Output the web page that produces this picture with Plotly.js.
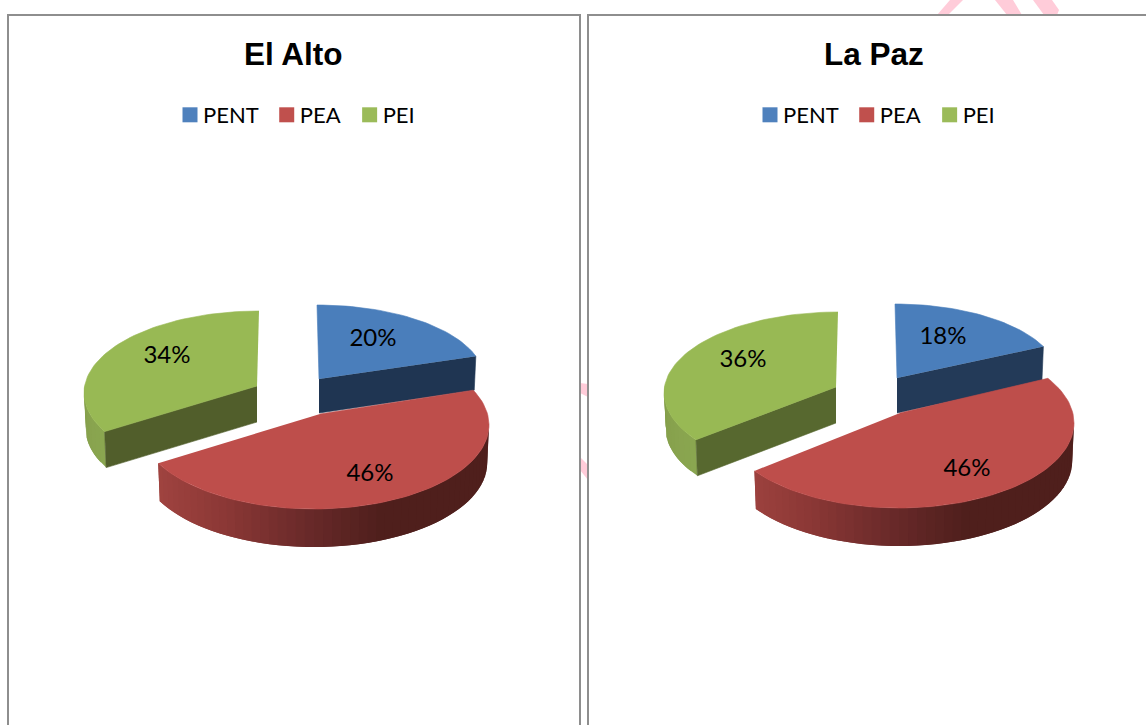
<!DOCTYPE html>
<html>
<head>
<meta charset="utf-8">
<script src="https://cdn.plot.ly/plotly-3.0.1.min.js"></script>
<style>html,body{margin:0;padding:0;background:#fff;overflow:hidden}#chart{width:1146px;height:725px}
.legendtext,.legend2text{transform:translateX(-7px)}</style>
</head>
<body>
<div id="chart"></div>
<script>
// ---------- data ----------
const seriesNames = ['PENT', 'PEA', 'PEI'];
const panelTitles = ['El Alto', 'La Paz'];
const elAltoValues = [20, 46, 34];
const laPazValues = [18, 46, 36];

// ---------- colours ----------
const topColors = ['#4a7ebb', '#be4e4b', '#98b954'];
const legendColors = ['#4f81bd', '#c0504d', '#9bbb59'];
const redWallStops = [[158, [160, 68, 64]], [226, [140, 56, 54]], [320, [102, 40, 40]], [385, [79, 31, 28]], [1200, [77, 30, 27]]];
const greenWallStops = [[0, [138, 166, 80]], [1, [132, 158, 74]]];

// ---------- projected geometry of the exploded, tilted slices (chart px) ----------
// perspective shifts the seen angle of a slice edge from its true angle
const edgeShift = [[0, 0], [-6.5, 5.3], [4.3, 0]];
const elAltoGeom = [
  {cx: 317, cy: 379, a: 167, b: 74, apex: [319, 379], depth: 34, inner: '#1f3552'},
  {cx: 314, cy: 425, a: 175, b: 84, apex: [320, 414], depth: 38},
  {cx: 259, cy: 393, a: 175, b: 82, apex: [257, 386], depth: 36, inner: '#515e2b'}
];
const laPazGeom = [
  {cx: 895, cy: 378, a: 164, b: 74, apex: [897, 378], depth: 35, inner: '#233a58'},
  {cx: 899, cy: 423, a: 175, b: 85, apex: [900, 413], depth: 38},
  {cx: 838, cy: 393, a: 174, b: 81, apex: [836, 387], depth: 36, inner: '#57682f'}
];
const elAltoLabels = [[373, 340], [370, 475], [167, 357]];
const laPazLabels = [[943, 338], [967, 470], [743, 361]];

const D2R = Math.PI / 180;
function pt(g, deg, drop) {
  const k = drop ? 0.99 : 1;
  return [g.cx + g.a * k * Math.sin(deg * D2R), g.cy - g.b * Math.cos(deg * D2R) + (drop ? g.depth : 0)];
}
function arc(g, t0, t1, drop) {
  const n = Math.max(2, Math.ceil(Math.abs(t1 - t0) / 2));
  const out = [];
  for (let i = 0; i <= n; i++) out.push(pt(g, t0 + (t1 - t0) * i / n, drop));
  return out;
}
function lerpStops(stops, v) {
  for (let i = 1; i < stops.length; i++) {
    if (v <= stops[i][0]) {
      const f = Math.max(0, (v - stops[i - 1][0]) / (stops[i][0] - stops[i - 1][0]));
      const c = stops[i - 1][1].map((c0, j) => Math.round(c0 + (stops[i][1][j] - c0) * f));
      return 'rgb(' + c.join(',') + ')';
    }
  }
  return 'rgb(' + stops[stops.length - 1][1].join(',') + ')';
}
function poly(points, color, name, w) {
  return {
    type: 'scatter', mode: 'lines', fill: 'toself', fillcolor: color,
    x: points.map(p => p[0]), y: points.map(p => p[1]),
    line: {color: color, width: w === undefined ? 0.6 : w}, hoverinfo: 'skip', showlegend: false, name: name
  };
}
function wallStrips(g, t0, t1, colorAt, step) {
  const out = [];
  for (let t = t0; t < t1 - 0.01; t += step) {
    const e = Math.min(t + step + step, t1); // overlap the next strip so no seam shows
    const top = arc(g, t, e, false), bot = arc(g, t, e, true).reverse();
    out.push(poly(top.concat(bot), colorAt(t, top[0][0]), 'wall', 0));
  }
  return out;
}
function panelTraces(values, geom, labels, legendId) {
  const total = values.reduce((s, v) => s + v, 0);
  const traces = [];
  let acc = 0;
  const spans = values.map((v, i) => {
    const t0 = acc / total * 360 + edgeShift[i][0];
    acc += v;
    return [t0, acc / total * 360 + edgeShift[i][1]];
  });
  const [gBlue, gRed, gGreen] = geom;
  // PEI (back left)
  traces.push(...wallStrips(gGreen, spans[2][0], 275, (t) => lerpStops(greenWallStops, (t - spans[2][0]) / 35), 4));
  traces.push(poly([gGreen.apex, pt(gGreen, spans[2][0], false), pt(gGreen, spans[2][0], true), [gGreen.apex[0], gGreen.apex[1] + gGreen.depth]], gGreen.inner, 'inner'));
  traces.push(poly([gGreen.apex].concat(arc(gGreen, spans[2][0], spans[2][1], false)), topColors[2], seriesNames[2]));
  // PENT (back right)
  traces.push(poly([gBlue.apex, pt(gBlue, spans[0][1], false), pt(gBlue, spans[0][1], true), [gBlue.apex[0], gBlue.apex[1] + gBlue.depth]], gBlue.inner, 'inner'));
  traces.push(poly([gBlue.apex].concat(arc(gBlue, spans[0][0], spans[0][1], false)), topColors[0], seriesNames[0]));
  // PEA (front)
  traces.push(...wallStrips(gRed, 90, spans[1][1], (t, x) => lerpStops(redWallStops, x - (gRed.cx - 314)), 3));
  traces.push(poly([gRed.apex].concat(arc(gRed, spans[1][0], spans[1][1], false)), topColors[1], seriesNames[1]));
  // percentage labels
  traces.push({
    type: 'scatter', mode: 'text', x: labels.map(p => p[0]), y: labels.map(p => p[1]),
    text: values.map(v => v + '%'), textposition: 'middle center',
    textfont: {family: 'Lato, sans-serif', size: 24, color: '#000'},
    hoverinfo: 'skip', showlegend: false
  });
  // legend entries
  seriesNames.forEach((n, i) => traces.push({
    type: 'scatter', mode: 'markers', x: [null], y: [null], name: n, legend: legendId,
    marker: {symbol: 'square', size: 15, color: legendColors[i]}, showlegend: true, hoverinfo: 'skip'
  }));
  return traces;
}

const traces = panelTraces(elAltoValues, elAltoGeom, elAltoLabels, 'legend')
  .concat(panelTraces(laPazValues, laPazGeom, laPazLabels, 'legend2'));

const pink = '#ffccd9';
const polyPath = pts => 'M' + pts.map(p => p.join(',')).join('L') + 'Z';
const frame = '#8e8e8e';
const shapes = [
  [[937, 15], [948, 15], [963, 0], [950, 0]],
  [[995, 0], [1013, 0], [1022, 15], [1007, 15]],
  [[1033, 0], [1052, 0], [1059, 10], [1057, 15], [1044, 15]],
  [[580, 383], [588, 384], [588, 397], [580, 393]],
  [[580, 457], [588, 465], [588, 480], [580, 470]]
].map(p => ({type: 'path', layer: 'below', path: polyPath(p), fillcolor: pink, line: {width: 0}}));
shapes.push({type: 'rect', layer: 'below', x0: 8, x1: 580, y0: 15, y1: 760, line: {color: frame, width: 2}});
shapes.push({type: 'rect', layer: 'below', x0: 588, x1: 1160, y0: 15, y1: 760, line: {color: frame, width: 2}});

const legendBase = {orientation: 'h', yanchor: 'middle', y: 1 - 115 / 725, xanchor: 'left',
  font: {family: 'Lato, sans-serif', size: 22, color: '#000'}, bgcolor: 'rgba(0,0,0,0)',
  itemclick: false, itemdoubleclick: false, traceorder: 'normal', tracegroupgap: 0};

const layout = {
  width: 1146, height: 725, margin: {l: 0, r: 0, t: 0, b: 0},
  paper_bgcolor: '#fff', plot_bgcolor: '#fff', hovermode: false,
  xaxis: {range: [0, 1146], visible: false, fixedrange: true},
  yaxis: {range: [725, 0], visible: false, fixedrange: true},
  shapes: shapes,
  legend: Object.assign({}, legendBase, {x: 170 / 1146}),
  legend2: Object.assign({}, legendBase, {x: 750 / 1146}),
  annotations: panelTitles.map((t, i) => ({
    text: '<b>' + t + '</b>', xref: 'x', yref: 'y', x: [293.5, 874][i], y: 54, showarrow: false,
    xanchor: 'center', yanchor: 'middle',
    font: {family: 'Liberation Sans, Arial, sans-serif', size: 31.5, color: '#000'}
  }))
};
// Plotly's legend keeps a fixed gap after the swatch; the stylesheet above tightens it
// and the entries close up to the reference spacing.
const legendEntryShift = [0, -4, -7];
Plotly.newPlot('chart', traces, layout, {displayModeBar: false, staticPlot: true}).then(gd => {
  gd.querySelectorAll('.legend, .legend2').forEach(lg => {
    lg.querySelectorAll('.traces').forEach((tr, i) => {
      const m = /translate\(([-\d.]+)[ ,]+([-\d.]+)\)/.exec(tr.getAttribute('transform') || '');
      if (m) tr.setAttribute('transform', 'translate(' + (+m[1] + legendEntryShift[i]) + ',' + m[2] + ')');
    });
  });
});
</script>
</body>
</html>
